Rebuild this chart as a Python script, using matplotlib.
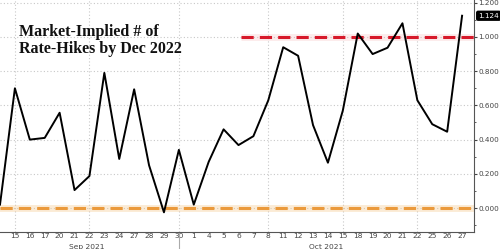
import numpy as np
import matplotlib
matplotlib.use('Agg')
import matplotlib.pyplot as plt
from matplotlib.ticker import MultipleLocator, FormatStrFormatter

# trading days, 14 Sep 2021 .. 27 Oct 2021 (first one sits on the left edge, unlabelled)
days = ['14', '15', '16', '17', '20', '21', '22', '23', '24', '27', '28', '29', '30',
        '1', '4', '5', '6', '7', '8', '11', '12', '13', '14', '15', '18', '19', '20',
        '21', '22', '25', '26', '27']
hikes = [0.02, 0.70, 0.40, 0.41, 0.557, 0.105, 0.187, 0.79, 0.287, 0.694, 0.25, -0.025,
         0.34, 0.02, 0.27, 0.46, 0.368, 0.42, 0.63, 0.94, 0.89, 0.485, 0.265, 0.57,
         1.02, 0.90, 0.937, 1.08, 0.63, 0.49, 0.446, 1.124]
grid_days = [1, 6, 12, 18, 23, 28]       # indices of vertical gridlines
month_labels = ['Sep 2021', 'Oct 2021']
month_pos = [4.8, 20.9]
one_hike = 1.0
red_start = 16

x = np.arange(len(days)) - 1

fig = plt.figure(figsize=(5, 2.49), dpi=100)
ax = fig.add_axes([0, 0.0683, 0.948, 0.9317])

ax.set_xlim(-1.0, 30.8)
ax.set_ylim(-0.14, 1.216)

# grid
for g in np.arange(0, 1.21, 0.2):
    ax.axhline(g, color='#c8c8c8', lw=0.8, ls=(0, (1, 2)), zorder=0)
for i in grid_days:
    ax.axvline(x[i], color='#c8c8c8', lw=0.8, ls=(0, (1, 2)), zorder=0)

# zero line with glow
ax.axhline(0, color='#f5c88a', lw=5, alpha=0.35, zorder=1)
ax.axhline(0, color='#eb9a3c', lw=2.2, ls=(0, (4, 2)), zorder=2)

# 1 hike line
ax.plot([x[red_start] + 0.2, 30.8], [one_hike, one_hike], color='#f4a0a0', lw=5,
        alpha=0.2, zorder=1, solid_capstyle='butt')
ax.plot([x[red_start] + 0.2, 30.8], [one_hike, one_hike], color='#d7192a', lw=2.2,
        ls=(0, (4, 2)), zorder=2)

ax.plot(x, hikes, color='black', lw=1.4, zorder=3)

# axes styling
for s in ['left', 'top']:
    ax.spines[s].set_visible(False)
ax.spines['right'].set_color('#555555')
ax.spines['bottom'].set_color('#555555')
ax.spines['right'].set_linewidth(0.8)
ax.spines['bottom'].set_linewidth(0.8)

ax.yaxis.tick_right()
ax.yaxis.set_major_locator(MultipleLocator(0.2))
ax.yaxis.set_minor_locator(MultipleLocator(0.1))
ax.yaxis.set_major_formatter(FormatStrFormatter('%.3f'))
ax.tick_params(axis='y', which='major', length=2, width=0.8, pad=1,
               labelsize=5.2, labelcolor='#444444', colors='#444444')
ax.tick_params(axis='y', which='minor', length=1.5, width=0.6, colors='#444444')

ax.set_xticks(x[1:])
ax.set_xticklabels(days[1:])
ax.tick_params(axis='x', length=0, pad=0.5, labelsize=5.4, labelcolor='#444444')

# month labels and separator
for lab, p in zip(month_labels, month_pos):
    ax.text(p, -0.228, lab, ha='center', va='center', fontsize=5.4, color='#444444',
            clip_on=False)
ax.plot([x[12], x[12]], [-0.14, -0.32], color='#aaaaaa', lw=0.8, clip_on=False)

# last value box
ax.annotate(f'{hikes[-1]:.3f}', xy=(1.0, hikes[-1]), xycoords=('axes fraction', 'data'),
            xytext=(3, 0), textcoords='offset points', ha='left', va='center',
            fontsize=5.2, color='white',
            bbox=dict(boxstyle='round,pad=0.2', fc='black', ec='black'))

fig.text(0.038, 0.905, 'Market-Implied # of\nRate-Hikes by Dec 2022', ha='left', va='top',
         fontsize=11.5, fontweight='bold', family='Liberation Serif', color='#111111',
         linespacing=1.12)

fig.savefig('out.png', dpi=100)
